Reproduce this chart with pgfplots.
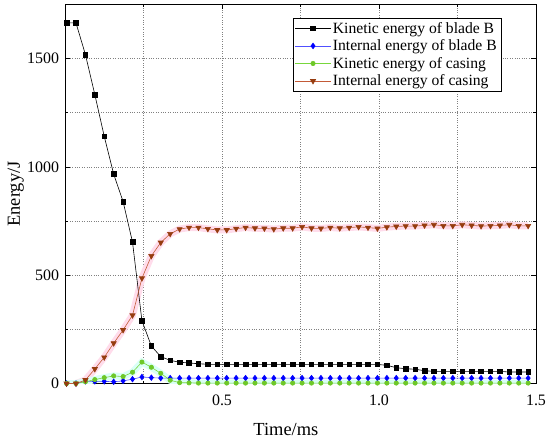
\documentclass[border=0pt]{standalone}
\usepackage{fontspec}
\setmainfont{Liberation Serif}
\usepackage{pgfplots}
\usepackage{pgfplotstable}
\pgfplotsset{compat=1.18}

\definecolor{kbcol}{RGB}{0,0,0}
\definecolor{ibcol}{RGB}{0,0,255}
\definecolor{ibline}{RGB}{80,80,255}
\definecolor{kccol}{RGB}{110,200,40}
\definecolor{kcline}{RGB}{120,215,60}
\definecolor{iccol}{RGB}{150,60,15}
\definecolor{icline}{RGB}{195,90,55}
\definecolor{pinkglow}{RGB}{255,220,235}
\definecolor{cyanglow}{RGB}{218,255,246}

% time (ms), kinetic blade B, internal blade B, kinetic casing, internal casing
\pgfplotstableread{
t     kb    ib  kc  ic
0.005 1665  0   0   0
0.035 1665  0   0   0
0.065 1519  10  8   16
0.095 1334  10  18  67
0.125 1141  10  27  121
0.155 967   8   35  186
0.185 840   12  32  247
0.215 653   20  52  315
0.245 290   30  99  486
0.275 173   27  75  589
0.305 124   25  47  651
0.335 107   25  15  691
0.365 98    25  4   713
0.395 95    25  3   720
0.425 91    25  2   720
0.455 89    25  2   714
0.485 88    25  2   709
0.515 88    25  2   709
0.545 88    25  2   715
0.575 88    25  2   720
0.605 88    25  2   717
0.635 88    25  2   716
0.665 88    25  2   713
0.695 88    25  2   717
0.725 88    25  2   717
0.755 88    25  2   723
0.785 88    25  2   717
0.815 88    25  2   716
0.845 88    25  2   720
0.875 88    25  2   717
0.905 88    25  2   720
0.935 88    25  2   723
0.965 88    25  2   720
0.995 88    25  2   716
1.025 84    25  2   722
1.055 73    25  2   725
1.085 68    25  2   727
1.115 66    25  2   727
1.145 59    25  2   730
1.175 56    25  2   733
1.205 56    25  2   728
1.235 56    25  2   728
1.265 56    25  2   733
1.295 56    25  2   730
1.325 56    25  2   727
1.355 56    25  2   728
1.385 56    25  2   730
1.415 53    25  2   733
1.445 53    25  2   728
1.475 53    25  2   728
}\energy

\begin{document}
\begin{tikzpicture}
\begin{axis}[
    name=ax,
    scale only axis,
    width=471bp, height=379bp,
    xmin=0, xmax=1.5,
    ymin=0, ymax=1750,
    xtick={0.5,1.0,1.5},
    minor xtick={0.25,0.75,1.25},
    ytick={0,500,1000,1500},
    minor ytick={250,750,1250},
    xticklabel style={/pgf/number format/fixed, /pgf/number format/fixed zerofill, /pgf/number format/precision=1},
    /pgf/number format/1000 sep={},
    /pgf/number format/assume math mode=true,
    tick label style={font=\fontsize{16}{18}\selectfont},
    xticklabel style={anchor=base, yshift=-21.5bp},
    yticklabel style={xshift=-2.5bp},
    tick align=inside,
    major tick length=5bp,
    minor tick length=3bp,
    tick style={black, line width=0.6pt},
    axis line style={black, line width=0.9pt},
    grid=both,
    major grid style={gray, dotted, line width=0.6pt},
    minor grid style={gray, dotted, line width=0.6pt},
    xlabel={Time/ms},
    ylabel={Energy/J},
    label style={font=\fontsize{18.5}{21}\selectfont},
    xlabel style={at={(axis description cs:0.469,-0.136)}, anchor=base},
    ylabel style={at={(axis description cs:-0.087,0.5)}, anchor=south, inner sep=0pt},
    legend style={at={(0.9257,0.9644)}, anchor=north east, draw=black, line width=0.5pt,
        font=\fontsize{15.7}{17.5}\selectfont, row sep=1bp, inner sep=2bp, fill=white},
    legend cell align=left,
    legend image code/.code={\draw[mark repeat=2, mark phase=2] plot coordinates {(0cm,0cm) (0.62cm,0cm) (1.24cm,0cm)};},
]
% light halos seen round the casing curves
\addplot[pinkglow, line width=7pt, forget plot] table[x=t, y=ic] {\energy};
\addplot[cyanglow, line width=7pt, forget plot] table[x=t, y=kc] {\energy};

\addplot[kbcol, line width=0.6pt, mark=square*, mark size=2.3pt, mark options={solid, fill=kbcol}] table[x=t, y=kb] {\energy};
\addlegendentry{Kinetic energy of blade B}
\addplot[ibline, line width=0.6pt, mark=diamond*, mark size=2.8pt, mark options={solid, draw=ibcol, fill=ibcol}] table[x=t, y=ib] {\energy};
\addlegendentry{Internal energy of blade B}
\addplot[kcline, line width=0.6pt, mark=*, mark size=2.2pt, mark options={solid, draw=kccol, fill=kccol}] table[x=t, y=kc] {\energy};
\addlegendentry{Kinetic energy of casing}
\addplot[icline, line width=0.6pt, mark=triangle*, mark size=3pt, mark options={solid, rotate=180, draw=iccol, fill=iccol}] table[x=t, y=ic] {\energy};
\addlegendentry{Internal energy of casing}
\end{axis}
\pgfresetboundingbox
\path (ax.south west) ++(-65bp,-57.5bp) rectangle ++(550bp,441bp);
\end{tikzpicture}
\end{document}
